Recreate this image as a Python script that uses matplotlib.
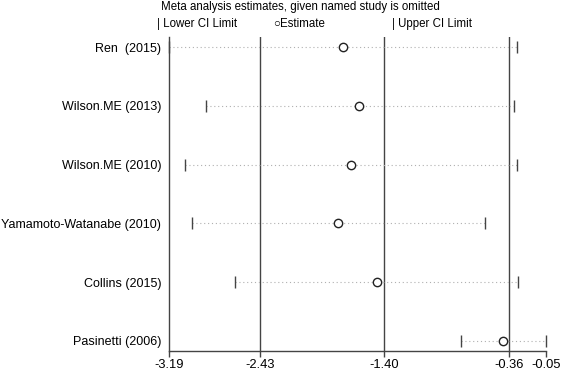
import matplotlib
matplotlib.use("Agg")
import matplotlib.pyplot as plt

plt.rcParams['font.family'] = ['Liberation Sans', 'DejaVu Sans']

studies = ["Ren  (2015)", "Wilson.ME (2013)", "Wilson.ME (2010)",
           "Yamamoto-Watanabe (2010)", "Collins (2015)", "Pasinetti (2006)"]
estimate = [-1.74, -1.61, -1.67, -1.78, -1.46, -0.41]
lower_ci = [-3.19, -2.88, -3.06, -3.00, -2.64, -0.76]
upper_ci = [-0.29, -0.32, -0.29, -0.56, -0.28, -0.05]
xticks = [-3.19, -2.43, -1.40, -0.36, -0.05]
ref_lines = [-2.43, -1.40, -0.36]

fs = 8.3
fig = plt.figure(figsize=(5.63, 3.71), dpi=100)
ax = fig.add_axes([0.300, 0.054, 0.670, 0.846])

n = len(studies)
ypos = [n - i for i in range(n)]

for x in ref_lines:
    ax.axvline(x, color='#444444', lw=1.0, zorder=1)

for y, lo, est, hi in zip(ypos, lower_ci, estimate, upper_ci):
    ax.plot([lo, hi], [y, y], linestyle=(0, (1, 2.5)), color='#b0b0b0', lw=0.8, zorder=2)
    ax.plot([lo], [y], marker='|', color='#444444', ms=8, mew=1.0, ls='none', zorder=3, clip_on=False)
    ax.plot([hi], [y], marker='|', color='#444444', ms=8, mew=1.0, ls='none', zorder=3, clip_on=False)
    ax.plot([est], [y], marker='o', mfc='white', mec='#222222', ms=6, mew=1.0, ls='none', zorder=4)

ax.set_xlim(-3.19, -0.05)
ax.set_ylim(0.83, 6.17)
ax.set_xticks(xticks)
ax.set_xticklabels([f"{v:.2f}" for v in xticks], fontsize=9.3)
ax.set_yticks(ypos)
ax.set_yticklabels(studies, fontsize=9)
ax.tick_params(axis='y', length=0, pad=5.5)
ax.tick_params(axis='x', length=4, width=1, color='#444444', pad=2)
for s in ['top', 'right']:
    ax.spines[s].set_visible(False)
for s in ['left', 'bottom']:
    ax.spines[s].set_color('#444444')
    ax.spines[s].set_linewidth(1.0)

fig.text(300 / 563, 1 - 7 / 371, "Meta analysis estimates, given named study is omitted",
         ha='center', va='center', fontsize=fs)
fig.text(157 / 563, 1 - 24 / 371, "| Lower CI Limit", ha='left', va='center', fontsize=fs)
fig.text(273 / 563, 1 - 24 / 371, "○Estimate", ha='left', va='center', fontsize=fs)
fig.text(392 / 563, 1 - 24 / 371, "| Upper CI Limit", ha='left', va='center', fontsize=fs)

fig.savefig("out.png", dpi=100)
